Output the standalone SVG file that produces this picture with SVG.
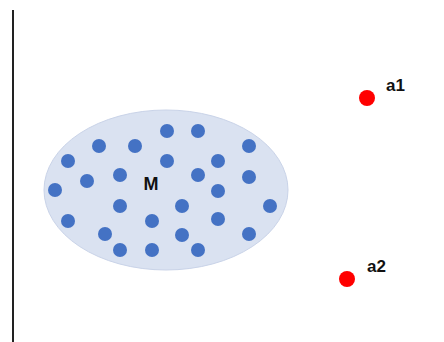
<svg xmlns="http://www.w3.org/2000/svg" width="444" height="342" viewBox="0 0 444 342">
<style>
.d{fill:#4472C4}
.r{fill:#FF0000}
.t{font-family:"Liberation Sans",Arial,sans-serif;font-weight:bold;fill:#111}
</style>
<rect width="444" height="342" fill="#fff"/>
<line x1="13" y1="10" x2="13" y2="342" stroke="#222" stroke-width="2"/>
<g id="M">
<ellipse cx="166" cy="190" rx="122" ry="80" fill="#DAE2F1" stroke="#C9D3E8" stroke-width="1"/>
<g>
<circle class="d" cx="167" cy="131" r="7"/>
<circle class="d" cx="198" cy="131" r="7"/>
<circle class="d" cx="99" cy="146" r="7"/>
<circle class="d" cx="135" cy="146" r="7"/>
<circle class="d" cx="249" cy="146" r="7"/>
<circle class="d" cx="68" cy="161" r="7"/>
<circle class="d" cx="167" cy="161" r="7"/>
<circle class="d" cx="218" cy="161" r="7"/>
<circle class="d" cx="87" cy="181" r="7"/>
<circle class="d" cx="120" cy="175" r="7"/>
<circle class="d" cx="198" cy="175" r="7"/>
<circle class="d" cx="249" cy="177" r="7"/>
<circle class="d" cx="55" cy="190" r="7"/>
<circle class="d" cx="218" cy="191" r="7"/>
<circle class="d" cx="120" cy="206" r="7"/>
<circle class="d" cx="182" cy="206" r="7"/>
<circle class="d" cx="270" cy="206" r="7"/>
<circle class="d" cx="68" cy="221" r="7"/>
<circle class="d" cx="152" cy="221" r="7"/>
<circle class="d" cx="218" cy="219" r="7"/>
<circle class="d" cx="105" cy="234" r="7"/>
<circle class="d" cx="182" cy="235" r="7"/>
<circle class="d" cx="249" cy="234" r="7"/>
<circle class="d" cx="120" cy="250" r="7"/>
<circle class="d" cx="152" cy="250" r="7"/>
<circle class="d" cx="198" cy="250" r="7"/>
</g>
<text class="t" x="151" y="190" font-size="18" text-anchor="middle">M</text>
</g>
<g id="a1">
<circle class="r" cx="367" cy="98" r="8"/>
<text class="t" x="386" y="91" font-size="17">a1</text>
</g>
<g id="a2">
<circle class="r" cx="347" cy="279" r="8"/>
<text class="t" x="367" y="272" font-size="17">a2</text>
</g>
<g id="connectors"></g>
</svg>
